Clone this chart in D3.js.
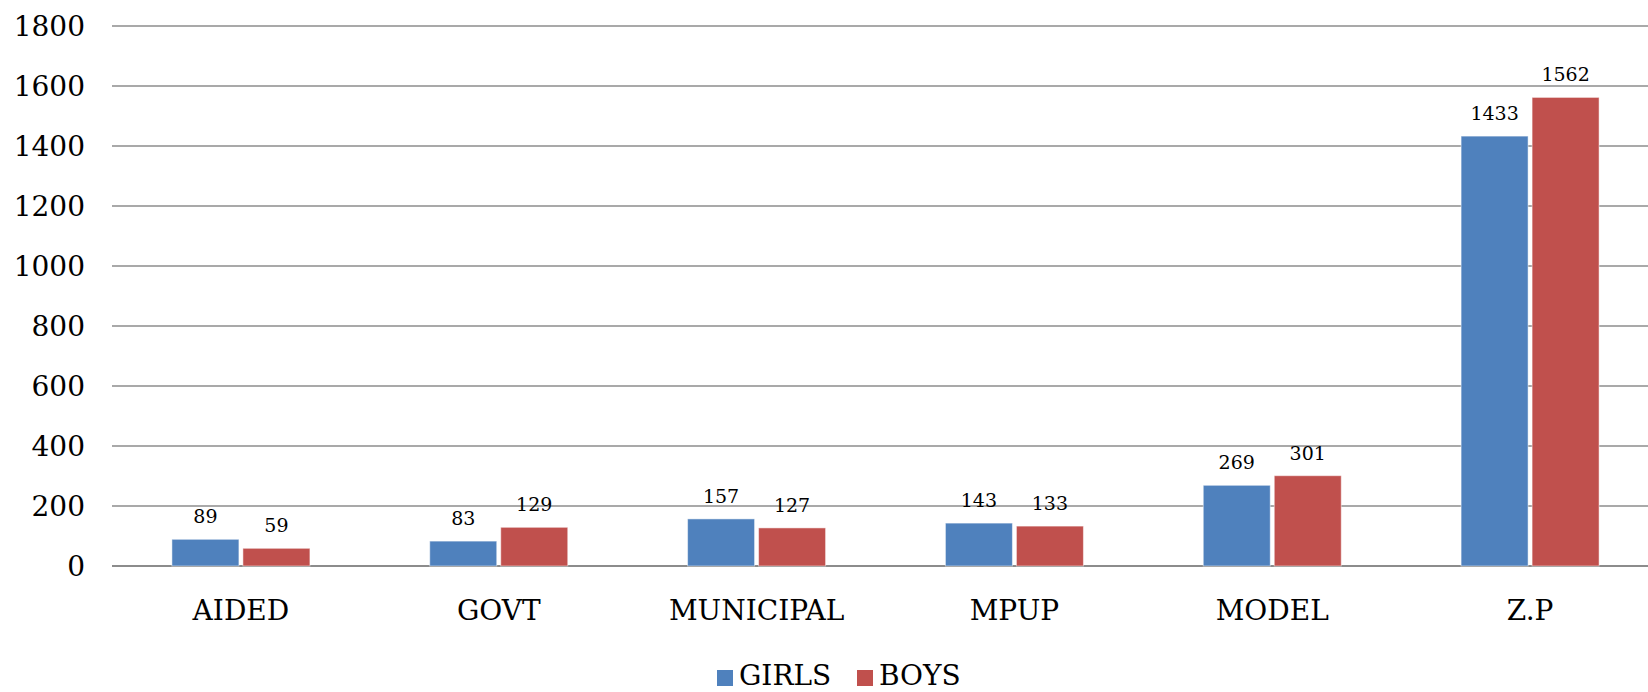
<!DOCTYPE html>
<html>
<head>
<meta charset="utf-8">
<style>
  body { margin: 0; background: #fff; }
  text { font-family: "DejaVu Serif", serif; fill: #000; }
</style>
</head>
<body>
<svg id="chart" width="1648" height="692"></svg>
<script src="https://d3js.org/d3.v7.min.js"></script>
<script>
var categories = ["AIDED", "GOVT", "MUNICIPAL", "MPUP", "MODEL", "Z.P"];
var girls = [89, 83, 157, 143, 269, 1433];
var boys = [59, 129, 127, 133, 301, 1562];
var seriesNames = ["GIRLS", "BOYS"];
var yTicks = [0, 200, 400, 600, 800, 1000, 1200, 1400, 1600, 1800];

var colors = ["#4F81BD", "#C0504D"];
var svg = d3.select("#chart");
// the plot area runs a little past the right edge of the picture
var plotLeft = 112, plotRight = 1659, plotTop = 26, plotBottom = 566;

var x = d3.scaleBand().domain(categories).range([plotLeft, plotRight]);
var y = d3.scaleLinear().domain([0, 1800]).range([plotBottom, plotTop]);
var barW = 67, gap = 4;

// gridlines
svg.append("g").selectAll("line")
  .data(yTicks)
  .enter().append("line")
    .attr("x1", plotLeft).attr("x2", 1648)
    .attr("y1", function(d) { return y(d); })
    .attr("y2", function(d) { return y(d); })
    .style("stroke", "#8c8c8c")
    .style("stroke-width", function(d) { return d === 0 ? 2 : 1.3; });

// y tick labels
svg.append("g").selectAll("text")
  .data(yTicks)
  .enter().append("text")
    .attr("x", 85)
    .attr("y", function(d) { return y(d) + 10; })
    .attr("text-anchor", "end")
    .style("font-size", "28px")
    .text(function(d) { return d; });

var series = [girls, boys];
series.forEach(function(vals, si) {
  var g = svg.append("g");
  var xOff = function(c) {
    var mid = x(c) + x.bandwidth() / 2;
    return si === 0 ? mid - gap / 2 - barW : mid + gap / 2;
  };
  g.selectAll("rect")
    .data(vals)
    .enter().append("rect")
      .attr("x", function(d, i) { return xOff(categories[i]); })
      .attr("y", function(d) { return y(d); })
      .attr("width", barW)
      .attr("height", function(d) { return y(0) - y(d); })
      .style("fill", colors[si])
      .style("stroke", "#ffffff")
      .style("stroke-opacity", 0.5)
      .style("stroke-width", 1);
  g.selectAll("text")
    .data(vals)
    .enter().append("text")
      .attr("x", function(d, i) { return xOff(categories[i]) + barW / 2; })
      .attr("y", function(d) { return y(d) - 16; })
      .attr("text-anchor", "middle")
      .style("font-size", "19px")
      .text(function(d) { return d; });
});

// category labels
svg.append("g").selectAll("text")
  .data(categories)
  .enter().append("text")
    .attr("x", function(d) { return x(d) + x.bandwidth() / 2; })
    .attr("y", 620)
    .attr("text-anchor", "middle")
    .style("font-size", "28px")
    .text(function(d) { return d; });

// legend
var legendX = [717, 857];
var legend = svg.append("g").selectAll("g")
  .data(seriesNames)
  .enter().append("g");
legend.append("rect")
  .attr("x", function(d, i) { return legendX[i]; })
  .attr("y", 670)
  .attr("width", 16).attr("height", 16)
  .style("fill", function(d, i) { return colors[i]; });
legend.append("text")
  .attr("x", function(d, i) { return legendX[i] + 22; })
  .attr("y", 685)
  .style("font-size", "28px")
  .text(function(d) { return d; });
</script>
</body>
</html>
